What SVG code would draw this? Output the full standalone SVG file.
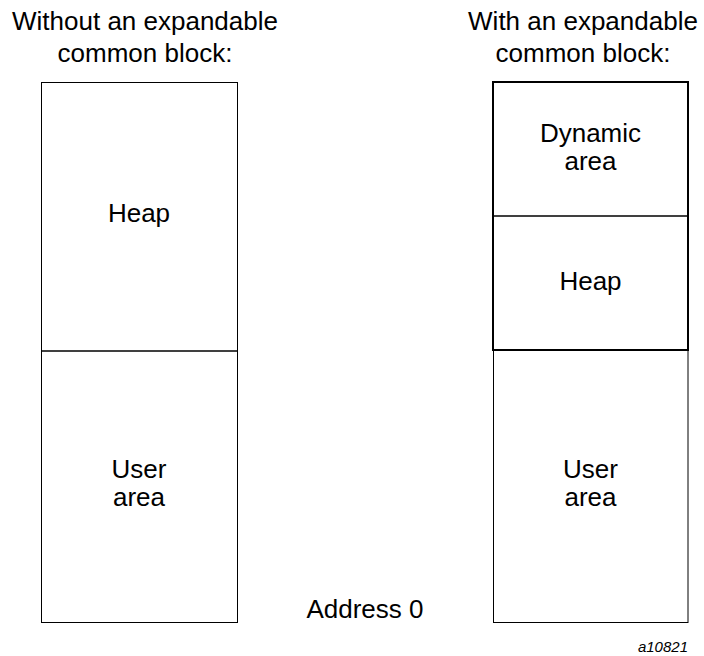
<svg xmlns="http://www.w3.org/2000/svg" width="704" height="656" viewBox="0 0 704 656">
<style>
text{font-family:"Liberation Sans",Arial,sans-serif;font-size:26px;fill:#000;text-anchor:middle}
.thin{fill:none;stroke:#000;stroke-width:1}
.thick{fill:none;stroke:#000;stroke-width:2}
.id{font-size:15px;font-style:italic;text-anchor:end}
</style>
<rect width="704" height="656" fill="#fff"/>
<g id="title-left">
<text x="145" y="30">Without an expandable</text>
<text x="145" y="62">common block:</text>
</g>
<g id="title-right">
<text x="583" y="30">With an expandable</text>
<text x="583" y="62">common block:</text>
</g>
<g id="left-heap">
<rect class="thin" x="41.5" y="82.5" width="196" height="268.5"/>
<text x="139" y="222">Heap</text>
</g>
<g id="left-user">
<rect class="thin" x="41.5" y="351" width="196" height="271.5"/>
<text x="139" y="478">User</text>
<text x="139" y="506">area</text>
</g>
<g id="right-user">
<rect class="thin" x="493.5" y="350" width="194.5" height="272.5"/>
<text x="590.5" y="478">User</text>
<text x="590.5" y="506">area</text>
</g>
<g id="right-dynamic">
<rect class="thin" x="493" y="82" width="195" height="134"/>
<text x="590.5" y="142">Dynamic</text>
<text x="590.5" y="170">area</text>
</g>
<g id="right-heap">
<rect class="thin" x="493" y="216" width="195" height="134"/>
<text x="590.5" y="290">Heap</text>
</g>
<g id="right-common-outline">
<rect class="thick" x="493" y="82" width="195" height="268"/>
</g>
<g id="connectors"></g>
<text x="365" y="618">Address 0</text>
<text class="id" x="688" y="652">a10821</text>
</svg>
